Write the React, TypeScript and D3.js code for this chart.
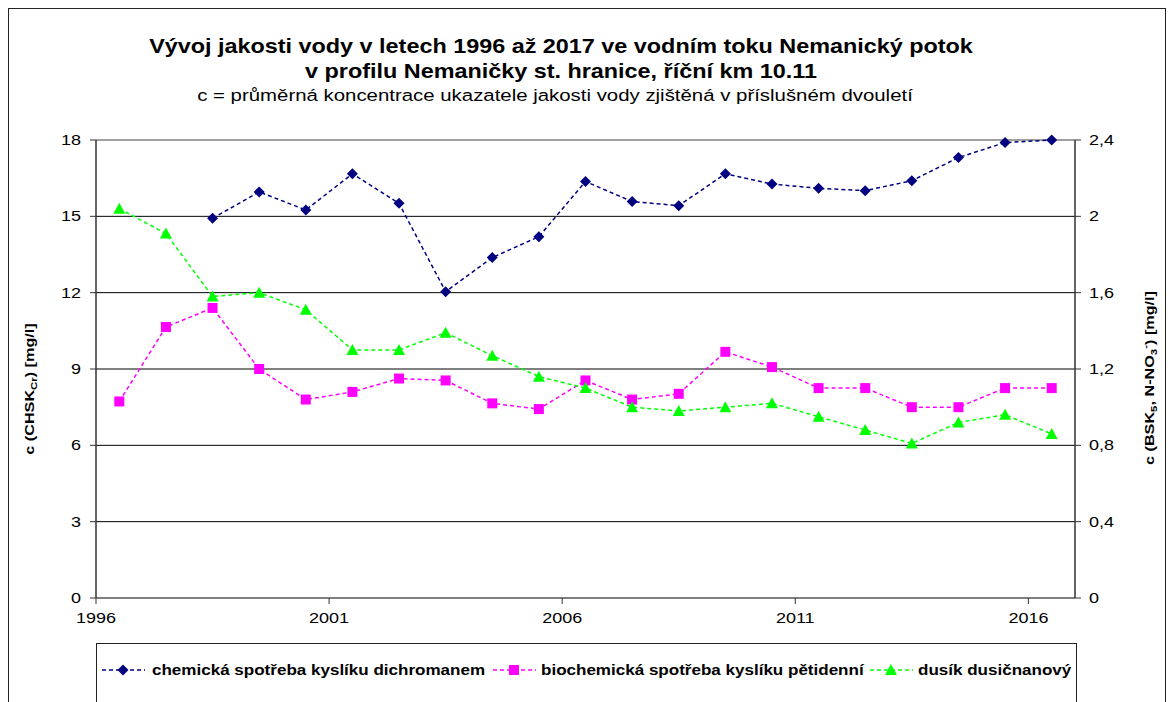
import * as d3 from 'd3';
import type { ReactNode } from 'react';

const periods = [
  1996.5, 1997.5, 1998.5, 1999.5, 2000.5, 2001.5, 2002.5, 2003.5, 2004.5, 2005.5, 2006.5,
  2007.5, 2008.5, 2009.5, 2010.5, 2011.5, 2012.5, 2013.5, 2014.5, 2015.5, 2016.5,
];
const chsk: (number | null)[] = [
  null, null, 14.92, 15.96, 15.25, 16.67, 15.51, 12.04, 13.38, 14.2, 16.37,
  15.58, 15.42, 16.67, 16.27, 16.1, 16.01, 16.4, 17.31, 17.9, 18.0,
];
const bsk = [
  1.03, 1.42, 1.52, 1.2, 1.04, 1.08, 1.15, 1.14, 1.02, 0.99, 1.14,
  1.04, 1.07, 1.29, 1.21, 1.1, 1.1, 1.0, 1.0, 1.1, 1.1,
];
const no3 = [
  2.04, 1.91, 1.58, 1.6, 1.51, 1.3, 1.3, 1.39, 1.27, 1.16, 1.1,
  1.0, 0.98, 1.0, 1.02, 0.95, 0.88, 0.81, 0.92, 0.96, 0.86,
];
const xTicks = [1996, 2001, 2006, 2011, 2016];
const leftTicks = [0, 3, 6, 9, 12, 15, 18];
const rightTicks = [0, 0.4, 0.8, 1.2, 1.6, 2, 2.4];

const font = 'Liberation Sans, Arial, sans-serif';
const colors = { chsk: '#000080', bsk: '#ff00ff', no3: '#00ff00' };
// the original renders text a bit wider than the font's natural width
const stretch = 1.2;

const plot = { left: 96, right: 1075, top: 140, bottom: 598 };

const x = d3.scaleLinear().domain([1996, 2017]).range([plot.left, plot.right]);
const yL = d3.scaleLinear().domain([0, 18]).range([plot.bottom, plot.top]);
const yR = d3.scaleLinear().domain([0, 2.4]).range([plot.bottom, plot.top]);

function T({
  x, y, size, anchor = 'start', bold = false, rotate = 0, children,
}: {
  x: number; y: number; size: number; anchor?: string; bold?: boolean; rotate?: number; children: ReactNode;
}) {
  return (
    <text
      transform={`translate(${x},${y}) rotate(${rotate}) scale(${stretch},1)`}
      textAnchor={anchor}
      fontSize={size}
      fontWeight={bold ? 'bold' : 'normal'}
    >
      {children}
    </text>
  );
}

function Marker({ kind, cx, cy, color }: { kind: string; cx: number; cy: number; color: string }) {
  if (kind === 'diamond') {
    const r = 5.5;
    return <path d={`M${cx},${cy - r}L${cx + r},${cy}L${cx},${cy + r}L${cx - r},${cy}Z`} fill={color} />;
  }
  if (kind === 'square') {
    return <rect x={cx - 5} y={cy - 5} width={10} height={10} fill={color} />;
  }
  return <path d={`M${cx},${cy - 6}L${cx + 6},${cy + 5}L${cx - 6},${cy + 5}Z`} fill={color} />;
}

const series = [
  { key: 'chsk', values: chsk, y: yL, color: colors.chsk, marker: 'diamond', label: 'chemická spotřeba kyslíku dichromanem' },
  { key: 'bsk', values: bsk, y: yR, color: colors.bsk, marker: 'square', label: 'biochemická spotřeba kyslíku pětidenní' },
  { key: 'no3', values: no3, y: yR, color: colors.no3, marker: 'triangle', label: 'dusík dusičnanový' },
];

const legendPos = [
  { line: 102, text: 152 },
  { line: 493, text: 541 },
  { line: 870, text: 918 },
];

export default function App() {
  const fmtR = (v: number) => String(v).replace('.', ',');
  return (
    <svg
      width={1173}
      height={702}
      style={{ position: 'absolute', left: 0, top: 0, fontFamily: font }}
    >
      <rect x={0} y={0} width={1173} height={702} fill="#fff" />
      <rect x={8.5} y={8.5} width={1157} height={720} fill="none" stroke="#222" strokeWidth={1} />

      <T x={561} y={53} size={19.5} anchor="middle" bold>
        Vývoj jakosti vody v letech 1996 až 2017 ve vodním toku Nemanický potok
      </T>
      <T x={561} y={78} size={19.5} anchor="middle" bold>
        v profilu Nemaničky st. hranice, říční km 10.11
      </T>
      <T x={555} y={101} size={17} anchor="middle">
        c = průměrná koncentrace ukazatele jakosti vody zjištěná v příslušném dvouletí
      </T>

      {/* gridlines */}
      {leftTicks.filter((t) => t > 0 && t < 18).map((t) => (
        <line key={t} x1={plot.left} x2={plot.right} y1={yL(t)} y2={yL(t)} stroke="#000" strokeWidth={1} />
      ))}
      <line x1={plot.left} x2={plot.right} y1={plot.top} y2={plot.top} stroke="#808080" strokeWidth={1.5} />
      <line x1={plot.left} x2={plot.right} y1={plot.bottom} y2={plot.bottom} stroke="#555" strokeWidth={1.5} />
      <line x1={plot.left} x2={plot.left} y1={plot.top} y2={plot.bottom} stroke="#333" strokeWidth={1.5} />
      <line x1={plot.right} x2={plot.right} y1={plot.top} y2={plot.bottom} stroke="#333" strokeWidth={1.5} />

      {/* left axis */}
      {leftTicks.map((t) => (
        <g key={t}>
          <line x1={plot.left - 6} x2={plot.left} y1={yL(t)} y2={yL(t)} stroke="#333" />
          <T x={81} y={yL(t) + 5} size={15} anchor="end">{t}</T>
        </g>
      ))}
      {/* right axis */}
      {rightTicks.map((t) => (
        <g key={t}>
          <line x1={plot.right} x2={plot.right + 6} y1={yR(t)} y2={yR(t)} stroke="#333" />
          <T x={1089} y={yR(t) + 5} size={15}>{fmtR(t)}</T>
        </g>
      ))}
      {/* x axis */}
      {xTicks.map((t) => (
        <g key={t}>
          <line x1={x(t)} x2={x(t)} y1={plot.bottom} y2={plot.bottom + 6} stroke="#333" />
          <T x={x(t)} y={623} size={15} anchor="middle">{t}</T>
        </g>
      ))}

      <T x={34} y={389} size={13.5} anchor="middle" bold rotate={-90}>
        c (CHSK<tspan fontSize={9.5} dy={3}>Cr</tspan><tspan dy={-3}>) [mg/l]</tspan>
      </T>
      <T x={1154} y={378} size={13.5} anchor="middle" bold rotate={-90}>
        c (BSK<tspan fontSize={9.5} dy={3}>5</tspan><tspan dy={-3}>, N-NO</tspan>
        <tspan fontSize={9.5} dy={3}>3</tspan><tspan fontSize={9.5} dy={-8}>-</tspan>
        <tspan dy={5}>) [mg/l]</tspan>
      </T>

      {/* series */}
      {series.map((s) => {
        const line = d3
          .line<number | null>()
          .defined((d) => d != null)
          .x((_, i) => x(periods[i]))
          .y((d) => s.y(d as number));
        return (
          <g key={s.key}>
            <path d={line(s.values) ?? ''} fill="none" stroke={s.color} strokeWidth={1.5} strokeDasharray="4,3" />
            {s.values.map((v, i) =>
              v == null ? null : (
                <Marker key={i} kind={s.marker} cx={x(periods[i])} cy={s.y(v)} color={s.color} />
              ),
            )}
          </g>
        );
      })}

      {/* legend */}
      <rect x={96.5} y={643.5} width={980} height={80} fill="#fff" stroke="#222" strokeWidth={1} />
      {series.map((s, i) => {
        const p = legendPos[i];
        return (
          <g key={s.key}>
            <line x1={p.line} x2={p.line + 43} y1={670} y2={670} stroke={s.color} strokeWidth={1.5} strokeDasharray="4,3" />
            <Marker kind={s.marker} cx={p.line + 21} cy={670} color={s.color} />
            <T x={p.text} y={675} size={14.2} bold>{s.label}</T>
          </g>
        );
      })}
    </svg>
  );
}
